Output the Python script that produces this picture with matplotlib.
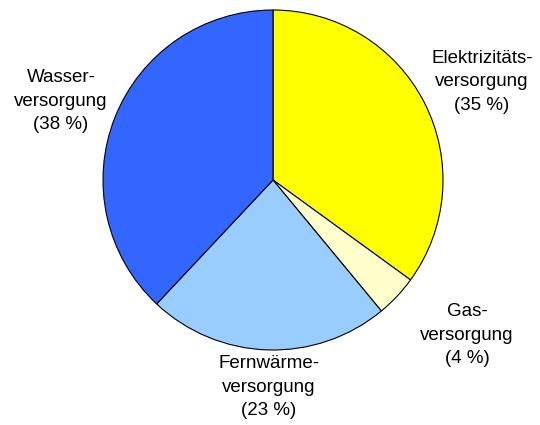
import matplotlib.pyplot as plt

# Anteile der Versorgungssparten
labels = ["Elektrizitäts-\nversorgung\n(35 %)", "Gas-\nversorgung\n(4 %)",
          "Fernwärme-\nversorgung\n(23 %)", "Wasser-\nversorgung\n(38 %)"]
values = [35, 4, 23, 38]
colors = ["#FFFF00", "#FFFFCC", "#99CCFF", "#3366FF"]
label_pos = [(482, 82), (467, 335), (269, 387), (61, 101)]  # pixel centres

plt.rcParams['font.family'] = ['Liberation Sans', 'DejaVu Sans']

W, H = 540, 425
fig = plt.figure(figsize=(W / 100, H / 100), dpi=100)
cx, cy, r = 273, 180, 170
ax = fig.add_axes([(cx - r) / W, (H - cy - r) / H, 2 * r / W, 2 * r / H])
ax.pie(values, colors=colors, startangle=90, counterclock=False,
       wedgeprops=dict(edgecolor="black", linewidth=0.8))
ax.set_xlim(-1, 1)
ax.set_ylim(-1, 1)
ax.axis("off")

for lab, (px, py) in zip(labels, label_pos):
    fig.text(px / W, 1 - py / H, lab, ha="center", va="center",
             fontsize=13.5, linespacing=1.5)

plt.savefig("out.png", dpi=100)
plt.close()
